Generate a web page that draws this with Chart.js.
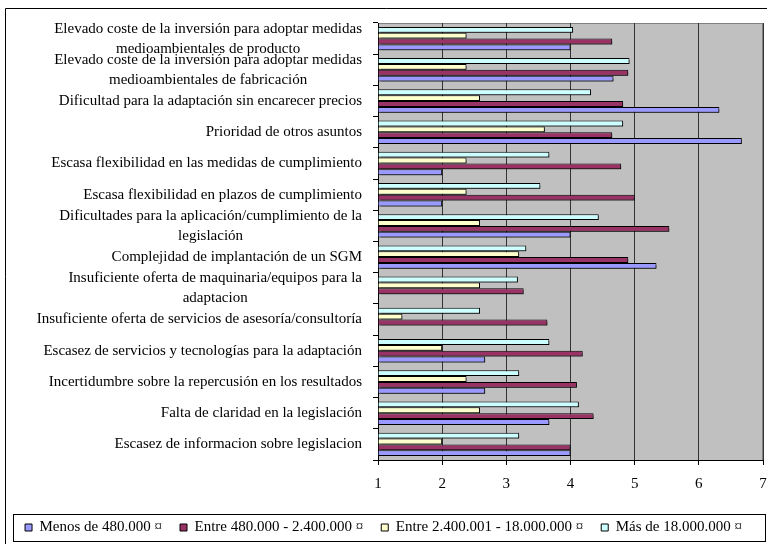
<!DOCTYPE html>
<html>
<head>
<meta charset="utf-8">
<title>Barreras medioambientales</title>
<script src="https://cdn.jsdelivr.net/npm/chart.js@4.4.1/dist/chart.umd.min.js"></script>
<style>
  html, body { margin: 0; padding: 0; background: #fff; }
  #wrap { position: absolute; left: 0; top: 0; width: 767px; height: 544px; }
</style>
</head>
<body>
<div id="wrap"><canvas id="my-chart" width="767" height="544"></canvas></div>
<script>
'use strict';

//**********Global Variables*******************

// categories, top to bottom as they appear
let categories = [
  ['Elevado coste de la inversión para adoptar medidas', 'medioambientales de producto'],
  ['Elevado coste de la inversión para adoptar medidas', 'medioambientales de fabricación'],
  ['Dificultad para la adaptación sin encarecer precios'],
  ['Prioridad de otros asuntos'],
  ['Escasa flexibilidad en las medidas de cumplimiento'],
  ['Escasa flexibilidad en plazos de cumplimiento'],
  ['Dificultades para la aplicación/cumplimiento de la', 'legislación'],
  ['Complejidad de implantación de un SGM'],
  ['Insuficiente oferta de maquinaria/equipos para la', 'adaptacion'],
  ['Insuficiente oferta de servicios de asesoría/consultoría'],
  ['Escasez de servicios y tecnologías para la adaptación'],
  ['Incertidumbre sobre la repercusión en los resultados'],
  ['Falta de claridad en la legislación'],
  ['Escasez de informacion sobre legislacion']
];

let menos480 = [4.0, 4.67, 6.32, 6.67, 2.0, 2.0, 4.0, 5.34, null, null, 2.67, 2.67, 3.67, 4.0];
let entre480 = [4.65, 4.9, 4.82, 4.65, 4.79, 5.0, 5.54, 4.9, 3.27, 3.64, 4.19, 4.1, 4.36, 4.0];
let entre2400 = [2.38, 2.38, 2.59, 3.6, 2.38, 2.38, 2.59, 3.2, 2.59, 1.38, 2.0, 2.38, 2.59, 2.0];
let mas18000 = [4.04, 4.92, 4.32, 4.82, 3.67, 3.53, 4.44, 3.31, 3.18, 2.59, 3.67, 3.2, 4.13, 3.2];

let xTicks = [1, 2, 3, 4, 5, 6, 7];

// ************DOM References*******************

let canvasElem = document.getElementById('my-chart');

let fontFamily = '"Liberation Serif", "Times New Roman", serif';
Chart.defaults.font.family = fontFamily;
Chart.defaults.font.size = 15;
Chart.defaults.color = '#000';

// ************ Plugins ************************

// grey plot area, outer frame and legend box
let framePlugin = {
  id: 'frame',
  beforeDraw(chart) {
    let ctx = chart.ctx;
    let a = chart.chartArea;
    ctx.save();
    ctx.fillStyle = '#c0c0c0';
    ctx.fillRect(a.left, a.top, a.right - a.left, a.bottom - a.top);
    ctx.strokeStyle = '#808080';
    ctx.lineWidth = 1;
    ctx.strokeRect(a.left + 0.5, a.top + 0.5, a.right - a.left - 1, a.bottom - a.top);
    ctx.strokeStyle = '#000';
    ctx.beginPath();
    ctx.moveTo(5.5, 544);
    ctx.lineTo(5.5, 8.5);
    ctx.lineTo(767, 8.5);
    ctx.stroke();
    ctx.strokeRect(13.5, 514.5, 752, 27);
    ctx.restore();
  }
};

// little drop shadow under the bars
let shadowPlugin = {
  id: 'barShadow',
  beforeDatasetsDraw(chart) {
    let ctx = chart.ctx;
    ctx.save();
    ctx.shadowColor = 'rgba(0,0,0,0.45)';
    ctx.shadowOffsetX = 2;
    ctx.shadowOffsetY = 2;
    ctx.shadowBlur = 0;
  },
  afterDatasetsDraw(chart) {
    chart.ctx.restore();
  }
};

// category labels: right aligned block, lines centred inside it
let catLabelPlugin = {
  id: 'catLabels',
  afterDraw(chart) {
    let ctx = chart.ctx;
    let yScale = chart.scales.y;
    let rightEdge = chart.chartArea.left - 16;
    let lineH = 20;
    ctx.save();
    ctx.font = '15px ' + fontFamily;
    ctx.fillStyle = '#000';
    ctx.textAlign = 'center';
    ctx.textBaseline = 'middle';
    for (let i = 0; i < categories.length; i++) {
      let lines = categories[i];
      let blockW = 0;
      for (let j = 0; j < lines.length; j++) {
        blockW = Math.max(blockW, ctx.measureText(lines[j]).width);
      }
      let cx = rightEdge - blockW / 2;
      let cy = yScale.getPixelForValue(i);
      for (let j = 0; j < lines.length; j++) {
        ctx.fillText(lines[j], cx, cy + (j - (lines.length - 1) / 2) * lineH);
      }
    }
    ctx.restore();
  }
};

// ************** Chart ********************

function renderChart() {

  let labelNames = [];
  for (let i = 0; i < categories.length; i++) {
    labelNames.push(categories[i].join(' '));
  }

  let myObj = {
    type: 'bar',
    data: {
      labels: labelNames,
      datasets: [{
        label: 'Más de 18.000.000 ¤',
        data: mas18000,
        backgroundColor: '#ccffff'
      },
      {
        label: 'Entre 2.400.001 - 18.000.000 ¤',
        data: entre2400,
        backgroundColor: '#ffffcc'
      },
      {
        label: 'Entre 480.000 - 2.400.000 ¤',
        data: entre480,
        backgroundColor: '#993366'
      },
      {
        label: 'Menos de 480.000 ¤',
        data: menos480,
        backgroundColor: '#9999ff'
      }]
    },
    options: {
      indexAxis: 'y',
      responsive: false,
      animation: false,
      layout: {
        padding: { top: 23, right: 0, left: 0, bottom: 0 }
      },
      datasets: {
        bar: {
          base: 1,
          borderColor: '#000',
          borderWidth: 1,
          categoryPercentage: 0.75,
          barPercentage: 1.0
        }
      },
      scales: {
        x: {
          min: 1,
          max: 7,
          afterBuildTicks(scale) {
            scale.ticks = xTicks.map(v => ({ value: v }));
          },
          afterFit(scale) {
            scale.height = 42;
            scale.paddingLeft = 0;
            scale.paddingRight = 4;
          },
          ticks: {
            padding: 10,
            color: '#000'
          },
          grid: {
            color: '#333',
            tickColor: '#000',
            tickLength: 5
          },
          border: { color: '#000' }
        },
        y: {
          afterFit(scale) {
            scale.width = 378;
          },
          ticks: { display: false },
          grid: {
            offset: true,
            drawOnChartArea: false,
            tickLength: 5,
            color: '#000'
          },
          border: { color: '#000' }
        }
      },
      plugins: {
        tooltip: { enabled: false },
        legend: {
          position: 'bottom',
          reverse: true,
          maxHeight: 42,
          labels: {
            boxWidth: 7,
            boxHeight: 7,
            padding: 18,
            color: '#000',
            font: { size: 15 }
          }
        }
      }
    },
    plugins: [framePlugin, shadowPlugin, catLabelPlugin]
  };

  new Chart(canvasElem, myObj);
}

renderChart();
</script>
</body>
</html>
